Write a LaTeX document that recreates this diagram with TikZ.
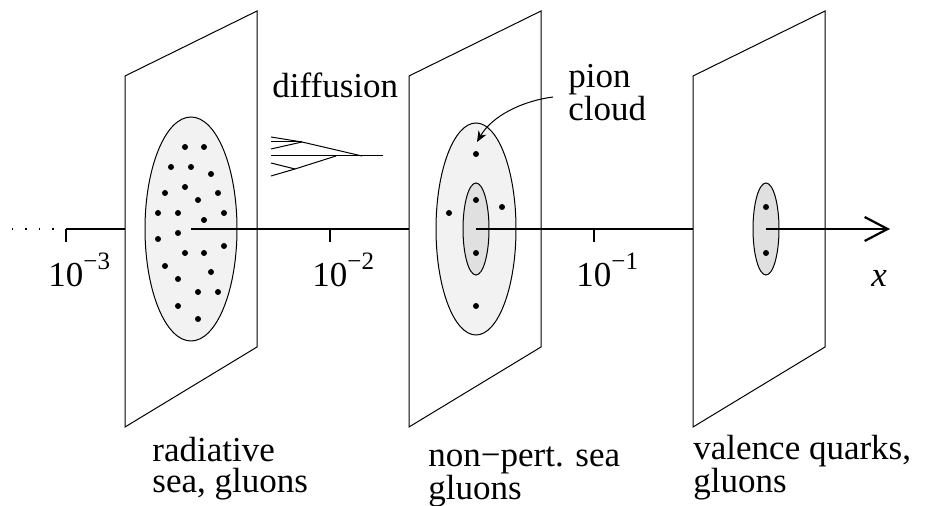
\documentclass[tikz,border=0pt]{standalone}
\usepackage{fontspec}
\setmainfont{Liberation Serif}
\newfontfamily\capfont{Liberation Serif}
\usetikzlibrary{arrows.meta, positioning}
\definecolor{cloudgray}{gray}{0.95}
\definecolor{coregray}{gray}{0.88}
\tikzset{
    sheet/.style={
        draw,
        fill=white,
        line width=0.5pt
    },
    cloud/.style={
        draw,
        fill=#1,
        line width=0.5pt
    },
    axisline/.style={
        line width=1.1pt
    },
    twig/.style={
        line width=0.5pt
    },
    caption/.style={
        anchor=base west,
        inner sep=0pt,
        align=left,
        font=\capfont\fontsize{17.5}{15.5}\selectfont
    }
}
\newcommand{\tenpow}[1]{10\raisebox{8.5pt}{\fontsize{12.5}{12}\selectfont #1}}

\begin{document}
\begin{tikzpicture}[x=0.5pt, y=-0.5pt]
    \useasboundingbox (0,0) rectangle (941,506);

    % planes in x
    \foreach \px in {125,409,693} {
        \draw[sheet] (\px,76) -- (\px+132,11) -- (\px+132,347) -- (\px,427) -- cycle;
    }

    % parton clouds
    \draw[cloud=cloudgray] (191,229) ellipse [x radius=46, y radius=112];
    \draw[cloud=cloudgray] (476,229) ellipse [x radius=40, y radius=106];
    \draw[cloud=coregray] (476,229) ellipse [x radius=13, y radius=46];
    \draw[cloud=coregray] (766,229) ellipse [x radius=13, y radius=46];

    \foreach \dx/\dy in {185/147, 204/147, 171/167, 191/167, 211/174,
                         185/187, 165/193, 218/193, 198/200,
                         158/213, 178/213, 224/213, 204/220,
                         178/233, 158/239, 224/246, 185/253, 204/253,
                         165/266, 211/272, 178/279, 198/292, 218/292,
                         178/306, 198/319,
                         476/154, 476/200, 449/213, 502/207, 476/253, 476/306,
                         766/207, 766/253} {
        \fill (\dx,\dy) circle [radius=1.5pt];
    }

    % x axis
    \coordinate (xstart) at (66,229);
    \coordinate (xend) at (890,229);
    \draw[line width=0.7pt, dash pattern=on 0.7pt off 6pt] (12,229) -- (xstart);
    \draw[axisline] (xstart) -- (125,229);
    \draw[axisline] (191,229) -- (409,229);
    \draw[axisline] (476,229) -- (693,229);
    \draw[axisline, -{Straight Barb[length=11.5pt, width=12pt]}] (766,229) -- (xend);
    \foreach \tx in {66,330,594} {
        \draw[axisline] (\tx,229) -- (\tx,242);
    }
    \node[caption] (em3) at (48,287) {\tenpow{−3}};
    \node[caption] (em2) at (312,287) {\tenpow{−2}};
    \node[caption] (em1) at (576,287) {\tenpow{−1}};
    \node[caption] (xlbl) at (871,287) {\textit{x}};

    % diffusion tree
    \node[caption] (diff) at (272,98) {diffusion};
    \coordinate (root) at (383,156);
    \coordinate (upfork) at (302,142);
    \coordinate (lowfork) at (295,169);
    \draw[twig] (root) -- (271,156);
    \draw[twig] (362,156) -- (upfork);
    \draw[twig] (upfork) -- (271,137);
    \draw[twig] (upfork) -- (271,142);
    \draw[twig] (upfork) -- (271,149);
    \draw[twig] (336,156) -- (lowfork);
    \draw[twig] (lowfork) -- (271,163);
    \draw[twig] (lowfork) -- (271,176);

    % pion cloud
    \node[caption] (pion) at (568,121) {pion\\cloud};
    \coordinate (piontip) at (477,142);
    \draw[line width=0.5pt, -{Stealth[length=5.5pt, width=4.5pt]}]
        (553,97) .. controls (522,101) and (492,116) .. (piontip);

    % captions
    \node[caption] (rad) at (152,493) {radiative\\sea, gluons};
    \node[caption] (np) at (428,500) {non−pert. sea\\gluons};
    \node[caption] (val) at (693,493) {valence quarks,\\gluons};
\end{tikzpicture}
\end{document}
